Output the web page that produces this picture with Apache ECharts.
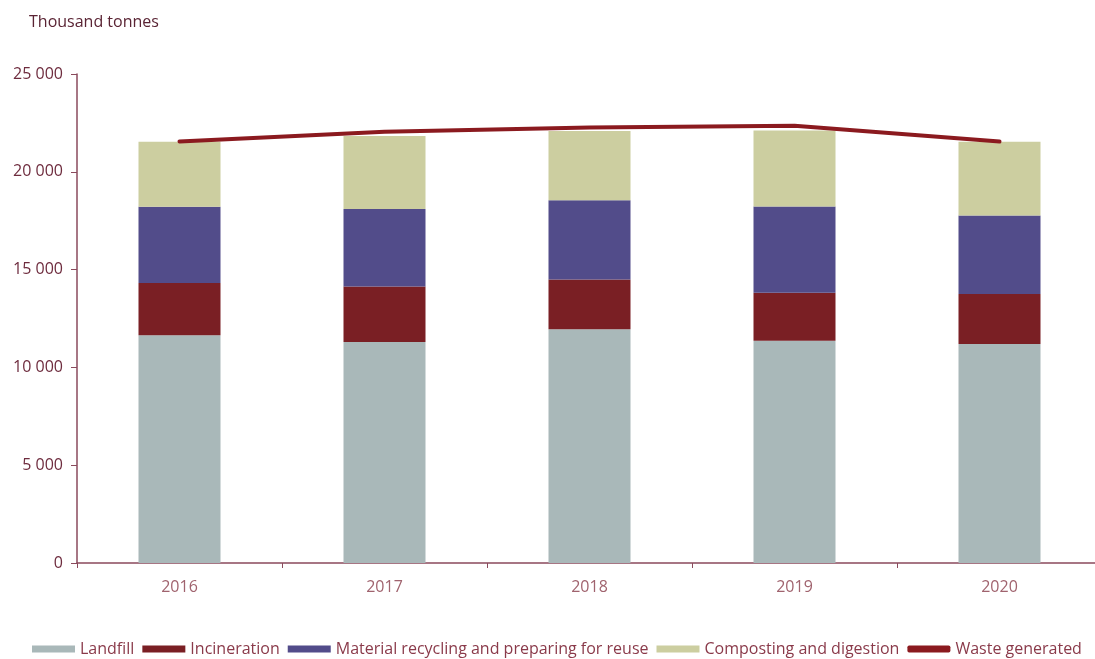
<!DOCTYPE html>
<html><head><meta charset="utf-8">
<script src="https://cdn.jsdelivr.net/npm/echarts@6/dist/echarts.min.js"></script>
<style>html,body{margin:0;padding:0;background:#fff;overflow:hidden;width:1095px;height:659px}#c{width:1110px;height:659px}</style>
</head><body><div id="c"></div>
<script>
const years = ['2016', '2017', '2018', '2019', '2020'];
const landfill = [11650, 11300, 11950, 11360, 11200];
const incineration = [2660, 2830, 2550, 2460, 2550];
const recycling = [3900, 3970, 4050, 4400, 4020];
const composting = [3320, 3730, 3540, 3890, 3760];
const wasteGenerated = [21550, 22050, 22270, 22350, 21550];

const font = 'Open Sans';
const chart = echarts.init(document.getElementById('c'));
function fmt(v){ return String(v).replace(/\B(?=(\d{3})+(?!\d))/g, ' '); }
chart.setOption({
  animation: false,
  textStyle: { fontFamily: font },
  title: { text: 'Thousand tonnes', left: 24, top: 9, textStyle: { fontFamily: font, fontSize: 16, fontWeight: 'normal', color: '#5a2434' } },
  grid: { left: 77, top: 74, width: 1025, height: 489 },
  legend: {
    left: 27, top: 636, itemWidth: 43, itemHeight: 7, itemGap: 8,
    textStyle: { fontFamily: font, fontSize: 16, color: '#8a3a4a' },
    data: [
      { name: 'Landfill', icon: 'rect' },
      { name: 'Incineration', icon: 'rect' },
      { name: 'Material recycling and preparing for reuse', icon: 'rect' },
      { name: 'Composting and digestion', icon: 'rect' },
      { name: 'Waste generated', icon: 'roundRect' }
    ]
  },
  xAxis: {
    type: 'category', data: years,
    axisLine: { lineStyle: { color: '#8a4a5c', width: 1.5 } },
    axisTick: { show: true, length: 5, lineStyle: { color: '#8a4a5c' } },
    axisLabel: { color: '#a0636e', fontSize: 16, margin: 16, fontFamily: font }
  },
  yAxis: {
    type: 'value', min: 0, max: 25000, interval: 5000,
    splitLine: { show: false },
    axisLine: { show: true, lineStyle: { color: '#8a4a5c', width: 1.5 } },
    axisTick: { show: true, length: 6, lineStyle: { color: '#8a4a5c' } },
    axisLabel: { color: '#6e2c3e', fontSize: 16, margin: 14, fontFamily: font, formatter: fmt }
  },
  series: [
    { name: 'Landfill', type: 'bar', stack: 't', data: landfill, barWidth: '40%', itemStyle: { color: '#a9b8b9' } },
    { name: 'Incineration', type: 'bar', stack: 't', data: incineration, itemStyle: { color: '#7a1f24' } },
    { name: 'Material recycling and preparing for reuse', type: 'bar', stack: 't', data: recycling, itemStyle: { color: '#524c8a' } },
    { name: 'Composting and digestion', type: 'bar', stack: 't', data: composting, itemStyle: { color: '#cccea0' } },
    { name: 'Waste generated', type: 'line', data: wasteGenerated, symbol: 'none', z: 5,
      lineStyle: { color: '#8b1a1f', width: 4, cap: 'round' }, itemStyle: { color: '#8b1a1f' } }
  ]
});
</script></body></html>
